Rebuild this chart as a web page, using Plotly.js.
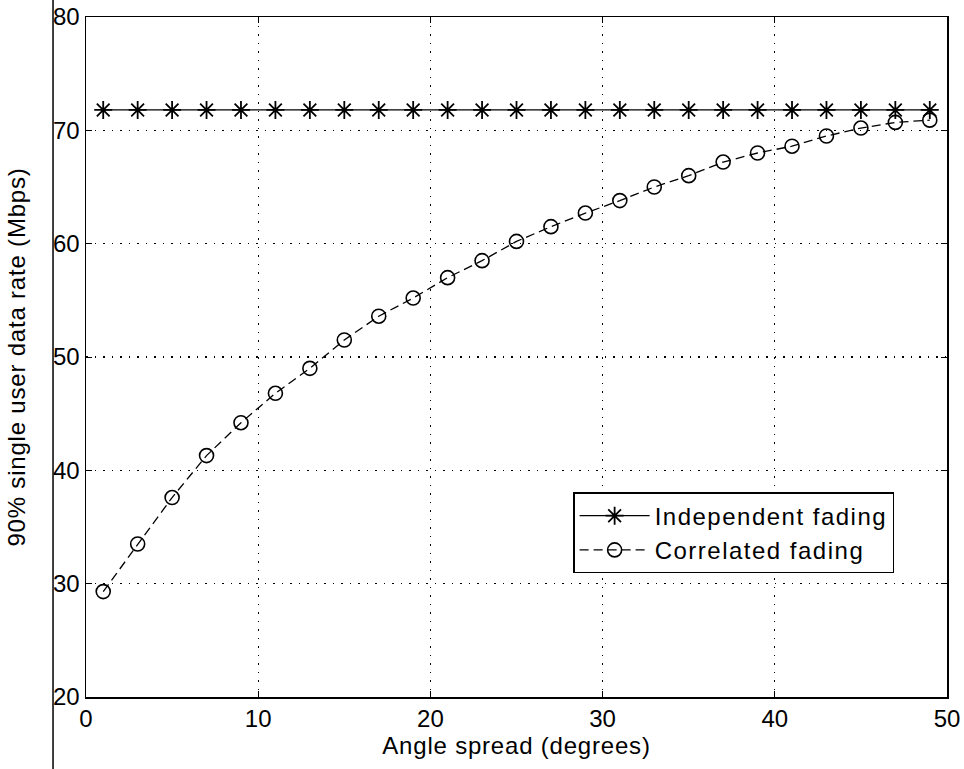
<!DOCTYPE html>
<html>
<head>
<meta charset="utf-8">
<script src="https://cdn.plot.ly/plotly-3.0.1.min.js"></script>
<style>
html,body{margin:0;padding:0;background:#fff;}
#chart{width:964px;height:769px;}
text.legendtext{letter-spacing:1.5px;}
text.xtitle, text.ytitle{letter-spacing:0.8px;}
</style>
</head>
<body>
<div id="chart"></div>
<script>
// Data
const angleSpread = [1,3,5,7,9,11,13,15,17,19,21,23,25,27,29,31,33,35,37,39,41,43,45,47,49];
const independentRate = [71.8,71.8,71.8,71.8,71.8,71.8,71.8,71.8,71.8,71.8,71.8,71.8,71.8,71.8,71.8,71.8,71.8,71.8,71.8,71.8,71.8,71.8,71.8,71.8,71.8];
const correlatedRate = [29.3,33.5,37.6,41.3,44.2,46.8,49.0,51.5,53.6,55.2,57.0,58.5,60.2,61.5,62.7,63.8,65.0,66.0,67.2,68.0,68.6,69.5,70.2,70.7,70.9];
const seriesNames = ["Independent fading", "Correlated fading"];
const xTitle = "Angle spread (degrees)";
const yTitle = "90% single user data rate (Mbps)";

const fontFam = '"Liberation Sans", Arial, Helvetica, sans-serif';
const fs = 24;

const traces = [
  {
    x: angleSpread, y: independentRate, name: seriesNames[0],
    type: 'scatter', mode: 'lines+markers',
    line: {color: '#000', width: 1.3, dash: 'solid'},
    marker: {symbol: 'asterisk-open', size: 15, color: '#000', line: {color: '#000', width: 1.8}}
  },
  {
    x: angleSpread, y: correlatedRate, name: seriesNames[1],
    type: 'scatter', mode: 'lines+markers',
    line: {color: '#000', width: 1.3, dash: '9px,5px'},
    marker: {symbol: 'circle-open', size: 14, color: '#000', line: {color: '#000', width: 1.6}}
  }
];

const axisCommon = {
  showline: true, linecolor: '#000', linewidth: 1.5, mirror: 'ticks',
  ticks: 'inside', ticklen: 6, tickcolor: '#000', tickwidth: 1,
  showgrid: true, gridcolor: '#000', gridwidth: 1.2, griddash: '1.5px,7px',
  zeroline: false, dtick: 10,
  tickfont: {family: fontFam, size: fs, color: '#000'}
};

const layout = {
  width: 964, height: 769,
  margin: {l: 86, r: 17, t: 17, b: 72},
  paper_bgcolor: '#fff', plot_bgcolor: '#fff',
  font: {family: fontFam, color: '#000', size: fs},
  showlegend: true,
  legend: {
    x: 0.566, y: 0.301, xanchor: 'left', yanchor: 'top',
    bgcolor: '#fff', bordercolor: '#000', borderwidth: 1.3,
    font: {family: fontFam, size: fs, color: '#000'},
    tracegroupgap: 0, itemwidth: 70
  },
  xaxis: Object.assign({}, axisCommon, {
    range: [0, 50], tick0: 0,
    title: {text: xTitle, font: {family: fontFam, size: fs, color: '#000'}, standoff: 4}
  }),
  yaxis: Object.assign({}, axisCommon, {
    range: [20, 80], tick0: 20,
    title: {text: yTitle, font: {family: fontFam, size: fs, color: '#000'}, standoff: 20}
  }),
  shapes: [
    {type: 'line', xref: 'paper', yref: 'paper', x0: -0.0383, x1: -0.0383, y0: -0.11, y1: 1.03,
     line: {color: '#000', width: 1.5}}
  ]
};

Plotly.newPlot('chart', traces, layout, {displayModeBar: false, staticPlot: true});
</script>
</body>
</html>
